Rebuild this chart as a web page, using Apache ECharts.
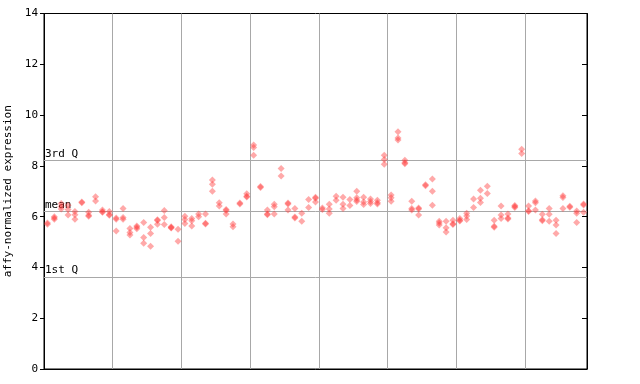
<!DOCTYPE html>
<html>
<head>
<meta charset="utf-8">
<script src="https://cdn.jsdelivr.net/npm/echarts@6/dist/echarts.min.js"></script>
<style>html,body{margin:0;padding:0;background:#fff;}#c{width:640px;height:384px;}</style>
</head>
<body>
<div id="c"></div>
<script>
// expression values per sample (replicates), grouped by 10 samples
const group1 = [[5.75,5.7],[5.95,6.0,5.9],[6.52,6.4,6.3],[6.45,6.28,6.06],[6.2,6.07,5.9],[6.58,6.55],[6.17,6.05,6.02],[6.78,6.62],[6.26,6.19,6.17],[6.2,6.08,6.05]];
const group2 = [[5.95,5.9,5.43],[6.32,5.97,5.9],[5.53,5.38,5.28],[5.63,5.52,5.58],[5.77,5.18,4.95],[5.58,5.34,4.83],[5.88,5.85,5.7],[6.24,5.97,5.69],[5.6,5.55,5.57],[5.5,5.03]];
const group3 = [[6.02,5.89,5.73],[5.93,5.84,5.63],[6.1,6.0],[6.1,5.74,5.71],[7.44,7.28,7.0],[6.55,6.42],[6.28,6.24,6.1],[5.71,5.6],[6.54,6.5],[6.9,6.8,6.77]];
const group4 = [[8.82,8.72,8.42],[7.19,7.15],[6.26,6.1,6.07],[6.49,6.39,6.1],[7.9,7.6],[6.54,6.5,6.26],[6.32,5.99,5.95],[6.13,5.82],[6.68,6.36],[6.76,6.72,6.58]];
const group5 = [[6.34,6.28],[6.49,6.3,6.13],[6.8,6.65],[6.76,6.49,6.32],[6.68,6.44],[7.0,6.74,6.66,6.6],[6.76,6.58,6.48],[6.69,6.6,6.52],[6.65,6.55,6.5],[8.42,8.25,8.06]];
const group6 = [[6.85,6.74,6.61],[9.34,9.1,9.02],[8.22,8.12,8.08],[6.61,6.32,6.26],[6.34,6.3,6.06],[7.26,7.22],[7.48,7.0,6.45],[5.82,5.75,5.67],[5.82,5.56,5.4],[5.86,5.72,5.69]];
const group7 = [[5.93,5.86,5.83],[6.13,6.03,5.89],[6.69,6.36],[7.04,6.72,6.56],[7.2,6.91],[5.86,5.62,5.58],[6.42,6.06,5.93],[6.1,5.95,5.91],[6.44,6.4,6.36],[8.65,8.49]];
const group8 = [[6.42,6.23,6.2],[6.62,6.55,6.26],[6.09,5.88,5.84],[6.32,6.09,5.82],[5.86,5.67,5.34],[6.82,6.75,6.32],[6.41,6.37],[6.22,6.13,5.77],[6.5,6.46,6.17]];
const quartileNames = ['1st Q','mean','3rd Q'];
const quartileValues = [3.62, 6.21, 8.22];
const yTicks = [0,2,4,6,8,10,12,14];
const yName = 'affy-normalized expression';

const samples = [].concat(group1, group2, group3, group4, group5, group6, group7, group8);
const points = [];
samples.forEach((vals, i) => vals.forEach(v => points.push([i + 0.5, v])));
const N = samples.length;

const font = 'DejaVu Sans Mono';
const chart = echarts.init(document.getElementById('c'), null, {renderer: 'canvas'});
chart.setOption({
  animation: false,
  backgroundColor: '#fff',
  grid: {left: 44, right: 53, top: 13.5, bottom: 15, show: true, borderColor: '#000', borderWidth: 1,
         containLabel: false, outerBoundsMode: 'none'},
  xAxis: [{
    type: 'value', min: 0, max: N, interval: 10,
    axisLine: {show: true, lineStyle: {color: '#000'}},
    axisTick: {show: false}, axisLabel: {show: false},
    splitLine: {show: true, lineStyle: {color: '#a8a8a8', width: 1}}
  }],
  yAxis: [{
    type: 'value', min: yTicks[0], max: yTicks[yTicks.length - 1], interval: 2,
    name: yName, nameLocation: 'middle', nameGap: 26,
    nameTextStyle: {fontFamily: font, fontSize: 11, color: '#000'},
    axisLine: {show: true, lineStyle: {color: '#000'}},
    axisTick: {show: true, length: 4, lineStyle: {color: '#000'}},
    axisLabel: {fontFamily: font, fontSize: 11, color: '#000', margin: 6},
    splitLine: {show: false}
  }, {
    type: 'value', min: yTicks[0], max: yTicks[yTicks.length - 1], interval: 2, position: 'right',
    axisLine: {show: true, lineStyle: {color: '#000'}},
    axisTick: {show: true, inside: true, length: 5, lineStyle: {color: '#000'}},
    axisLabel: {show: false}, splitLine: {show: false}
  }],
  series: [{
    type: 'scatter',
    data: points,
    symbol: 'diamond',
    symbolSize: 7,
    itemStyle: {color: 'rgba(255,60,60,0.55)'},
    markLine: {
      silent: true, symbol: 'none', animation: false,
      lineStyle: {color: '#a8a8a8', type: 'solid', width: 1},
      label: {show: true, position: 'insideStartTop', distance: [1, 1], fontFamily: font, fontSize: 11, color: '#000',
              formatter: p => p.name},
      emphasis: {disabled: true},
      data: quartileValues.map((v, i) => ({yAxis: v, name: quartileNames[i]}))
    },
    z: 5
  }]
});
</script>
</body>
</html>
